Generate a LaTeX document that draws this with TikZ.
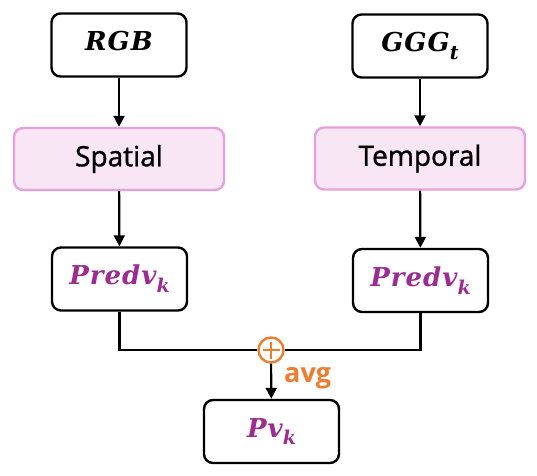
\documentclass[tikz,border=0pt]{standalone}
\usepackage{fontspec}
\setmainfont{Open Sans}
\newfontfamily\mathlab{DejaVu Serif}
\usetikzlibrary{arrows.meta}
\definecolor{pinkB}{HTML}{E6A0DC}
\definecolor{pinkF}{HTML}{F8E6F5}
\definecolor{purp}{HTML}{9B2D91}
\definecolor{orng}{HTML}{ED7D31}
\newcommand{\mlab}[2]{{\mathlab\bfseries\itshape\addfontfeatures{LetterSpace=4} #1\raisebox{-0.3em}{\fontsize{19}{19}\selectfont #2}}}
\begin{document}
\begin{tikzpicture}[x=1pt,y=-1pt,
  plain/.style={draw=black, line width=2.4pt, rounded corners=9pt, fill=white,
    minimum width=135pt, minimum height=63pt, inner sep=0pt,
    font=\fontsize{26}{30}\selectfont},
  module/.style={draw=pinkB, fill=pinkF, line width=2.4pt, rounded corners=9pt,
    minimum width=210pt, minimum height=62pt, inner sep=0pt,
    font=\fontsize{28}{30}\selectfont\addfontfeatures{FakeBold=1.2}},
  arr/.style={-{Triangle[length=11pt,width=11pt]}, line width=2.2pt},
  conn/.style={line width=2.2pt},
  sumnode/.style={circle, draw=orng, line width=2.4pt, minimum size=25pt, inner sep=0pt,
    path picture={\draw[orng, line width=2.6pt]
      ([yshift=-8.5pt]path picture bounding box.center) -- ([yshift=8.5pt]path picture bounding box.center)
      ([xshift=-8.5pt]path picture bounding box.center) -- ([xshift=8.5pt]path picture bounding box.center);}}
]
\useasboundingbox (0,0) rectangle (537,475);
\node[plain] (rgb) at (119,45) {\mlab{RGB}{}};
\node[plain] (ggg) at (420,46) {\mlab{GGG}{t}};
\node[module] (spatial) at (119,159) {Spatial};
\node[module] (temporal) at (420,158.5) {Temporal};
\node[plain, text=purp] (predL) at (119.5,279) {\mlab{Predv}{k}};
\node[plain, text=purp] (predR) at (420.5,280.5) {\mlab{Predv}{k}};
\node[plain, text=purp] (pv) at (271.5,431.5) {\mlab{Pv}{k}};
\node[sumnode] (sum) at (271,350) {};
\node[text=orng, font=\fontsize{27}{30}\selectfont\bfseries, anchor=west, inner sep=0pt] (avg) at (284,378) {avg};
\draw[arr] (rgb) -- (spatial);
\draw[arr] (ggg) -- (temporal);
\draw[arr] (spatial) -- (predL);
\draw[arr] (temporal) -- (predR);
\draw[conn] (predL.south) |- (sum.west);
\draw[conn] (predR.south) |- (sum.east);
\draw[arr] (sum) -- (pv);
\end{tikzpicture}
\end{document}
